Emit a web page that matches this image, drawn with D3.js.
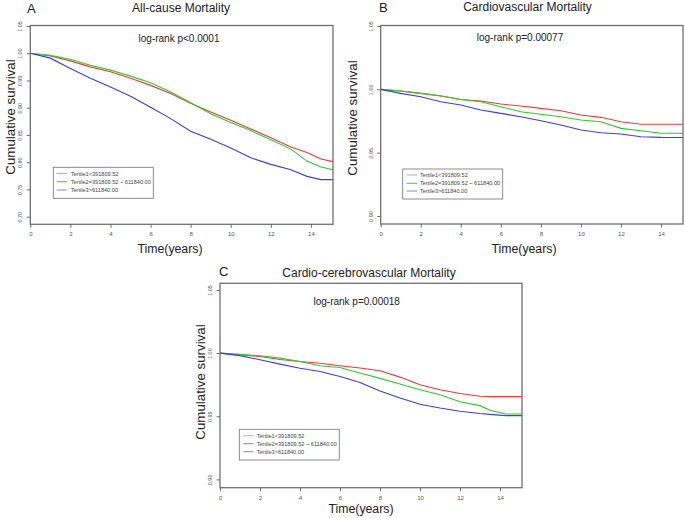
<!DOCTYPE html>
<html>
<head>
<meta charset="utf-8">
<script src="https://cdn.jsdelivr.net/npm/d3@7"></script>
<style>
  html, body { margin: 0; padding: 0; background: #fff; }
  svg { display: block; font-family: "Liberation Sans", Arial, sans-serif; }
</style>
</head>
<body>
<script>
// ---------------- DATA ----------------
const xTicks = [0, 2, 4, 6, 8, 10, 12, 14];
const yTicksA = [0.70, 0.75, 0.80, 0.85, 0.90, 0.95, 1.00, 1.05];
const yTicksBC = [0.90, 0.95, 1.00, 1.05];
const legendLabels = ["Tertile1<391809.52", "Tertile2=391809.52 ~ 611840.00", "Tertile3>611840.00"];
const seriesColors = ["#f03a3a", "#2bcc2b", "#3c3cf0"];
const legendColors = ["#f59a9a", "#3ad83a", "#8e8ef5"];

// Panel A: All-cause Mortality
const timeA = [0, 1, 2, 3, 4, 5, 6, 7, 8, 9, 10, 11, 12, 13, 13.8, 14.5, 15.1];
const survA_T1 = [1, 0.995, 0.986, 0.975, 0.966, 0.954, 0.941, 0.926, 0.908, 0.892, 0.877, 0.861, 0.845, 0.828, 0.818, 0.806, 0.801];
const survA_T2 = [1, 0.996, 0.989, 0.978, 0.969, 0.958, 0.946, 0.929, 0.909, 0.889, 0.873, 0.858, 0.841, 0.824, 0.802, 0.791, 0.786];
const survA_T3 = [1, 0.991, 0.972, 0.954, 0.938, 0.921, 0.901, 0.880, 0.857, 0.842, 0.826, 0.808, 0.796, 0.786, 0.774, 0.768, 0.768];

// Panel B: Cardiovascular Mortality
const timeB = [0, 1, 2, 3, 4, 5, 6, 7, 8, 9, 10, 11, 12, 13, 14, 15.1];
const survB_T1 = [1, 0.9987, 0.9968, 0.9947, 0.9920, 0.9908, 0.9884, 0.9868, 0.9850, 0.9831, 0.9797, 0.9779, 0.9744, 0.9724, 0.9724, 0.9724];
const survB_T2 = [1, 0.9987, 0.9968, 0.9950, 0.9920, 0.9902, 0.9863, 0.9823, 0.9803, 0.9784, 0.9758, 0.9744, 0.9692, 0.9673, 0.9653, 0.9653];
const survB_T3 = [1, 0.9968, 0.9942, 0.9902, 0.9876, 0.9837, 0.9810, 0.9784, 0.9752, 0.9718, 0.9679, 0.9657, 0.9647, 0.9626, 0.9621, 0.9620];

// Panel C: Cardio-cerebrovascular Mortality
const timeC = [0, 1, 2, 3, 4, 5, 6, 7, 8, 9, 10, 11, 12, 13, 13.5, 14.3, 15.1];
const survC_T1 = [1, 0.9987, 0.9973, 0.9950, 0.9934, 0.9920, 0.9900, 0.9882, 0.9860, 0.9810, 0.9750, 0.9710, 0.9680, 0.9658, 0.9655, 0.9655, 0.9655];
const survC_T2 = [1, 0.9990, 0.9979, 0.9960, 0.9934, 0.9900, 0.9886, 0.9842, 0.9800, 0.9755, 0.9710, 0.9670, 0.9615, 0.9584, 0.9547, 0.9518, 0.9518];
const survC_T3 = [1, 0.9980, 0.9947, 0.9913, 0.9880, 0.9855, 0.9815, 0.9768, 0.9700, 0.9645, 0.9595, 0.9565, 0.9540, 0.9522, 0.9515, 0.9505, 0.9505];

const titles = ["All-cause Mortality", "Cardiovascular Mortality", "Cardio-cerebrovascular Mortality"];
const panelLetters = ["A", "B", "C"];
const pValues = ["log-rank p<0.0001", "log-rank p=0.00077", "log-rank p=0.00018"];
const xTitle = "Time(years)";
const yTitle = "Cumulative survival";

// ---------------- LAYOUT ----------------
const W = 685, H = 518;
const panels = [
  { time: timeA, series: [survA_T1, survA_T2, survA_T3], yTicks: yTicksA,
    left: 30.3, right: 333, top: 26, bottom: 224.3, xMax: 15.1, yDom: [0.686, 1.05], frameTop: 25.5,
    letter: [27, 12.5], title: [181, 12], p: [179, 41.5], xt: [170, 252.5], yt: [14.5, 117],
    tickLabX: 8.5, tickLabY: 12.2,
    leg: { x: 53.3, y: 167.3, w: 100, h: 31, rows: [173.5, 181.7, 190], lx0: 56.7, lx1: 66.7, tx: 70.7 } },
  { time: timeB, series: [survB_T1, survB_T2, survB_T3], yTicks: yTicksBC,
    left: 380.7, right: 683, top: 26, bottom: 224, xMax: 15.1, yDom: [0.8937, 1.05], frameTop: 25.5,
    letter: [379, 12], title: [527.5, 11.3], p: [520, 40.8], xt: [524, 252.5], yt: [357, 118],
    tickLabX: 8, tickLabY: 12.2,
    leg: { x: 402.7, y: 169, w: 100, h: 30, rows: [175, 183.3, 191], lx0: 406.7, lx1: 417.3, tx: 420 } },
  { time: timeC, series: [survC_T1, survC_T2, survC_T3], yTicks: yTicksBC,
    left: 220, right: 522, top: 283.3, bottom: 487.7, xMax: 15.1, yDom: [0.8934, 1.0553], frameTop: 283.3,
    letter: [219, 275.5], title: [369, 277.3], p: [356.7, 305], xt: [361, 512.5], yt: [205, 382],
    tickLabX: 8, tickLabY: 12.8,
    leg: { x: 239.3, y: 429.3, w: 100, h: 30.7, rows: [435.7, 443.6, 451.7], lx0: 243.3, lx1: 253.3, tx: 256.7 } }
];

const svg = d3.select("body").append("svg").attr("width", W).attr("height", H);
svg.append("rect").attr("width", W).attr("height", H).attr("fill", "#fff");

const frameColor = "#707070";
const tickTextColor = "#555";

panels.forEach((p, i) => {
  const g = svg.append("g");
  const x = d3.scaleLinear().domain([0, p.xMax]).range([p.left, p.right]);
  const y = d3.scaleLinear().domain(p.yDom).range([p.bottom, p.top]);

  // curves
  const line = d3.line().x(d => x(d[0])).y(d => y(d[1]));
  p.series.forEach((s, k) => {
    const pts = p.time.map((t, j) => [t, s[j]]);
    g.append("path").datum(pts).attr("d", line)
      .attr("fill", "none").attr("stroke", seriesColors[k]).attr("stroke-width", 1.1);
  });

  // frame
  g.append("rect").attr("x", p.left).attr("y", p.frameTop)
    .attr("width", p.right - p.left).attr("height", p.bottom - p.frameTop)
    .attr("fill", "none").attr("stroke", frameColor).attr("stroke-width", 1.3);

  // x axis
  const xa = g.append("g").attr("transform", `translate(0,${p.bottom})`)
    .call(d3.axisBottom(x).tickValues(xTicks).tickSize(3.5).tickFormat(d3.format("d")));
  xa.select(".domain").remove();
  xa.selectAll("line").attr("stroke", frameColor);
  xa.selectAll("text").attr("y", p.tickLabY).attr("dy", 0)
    .attr("font-size", 6).attr("fill", tickTextColor)
    .attr("font-family", "'Liberation Sans', Arial, sans-serif");

  // y axis
  const ya = g.append("g").attr("transform", `translate(${p.left},0)`)
    .call(d3.axisLeft(y).tickValues(p.yTicks).tickSize(3.5).tickFormat(d3.format(".2f")));
  ya.select(".domain").remove();
  ya.selectAll("line").attr("stroke", frameColor);
  ya.selectAll("text").attr("x", null).attr("dy", 0)
    .attr("transform", `translate(${-p.tickLabX},0) rotate(-90)`)
    .attr("text-anchor", "middle")
    .attr("font-size", 5.5).attr("fill", tickTextColor)
    .attr("font-family", "'Liberation Sans', Arial, sans-serif");

  // texts
  g.append("text").attr("x", p.letter[0]).attr("y", p.letter[1]).text(panelLetters[i])
    .attr("font-size", 13).attr("fill", "#222");
  g.append("text").attr("x", p.title[0]).attr("y", p.title[1]).text(titles[i])
    .attr("font-size", 12).attr("text-anchor", "middle").attr("fill", "#222");
  g.append("text").attr("x", p.p[0]).attr("y", p.p[1]).text(pValues[i])
    .attr("font-size", 10).attr("text-anchor", "middle").attr("fill", "#222");
  g.append("text").attr("x", p.xt[0]).attr("y", p.xt[1]).text(xTitle)
    .attr("font-size", 12.3).attr("text-anchor", "middle").attr("fill", "#222");
  g.append("text").attr("transform", `translate(${p.yt[0]},${p.yt[1]}) rotate(-90)`)
    .text(yTitle).attr("font-size", 13.3).attr("text-anchor", "middle").attr("fill", "#222");

  // legend
  const L = p.leg;
  g.append("rect").attr("x", L.x).attr("y", L.y).attr("width", L.w).attr("height", L.h)
    .attr("fill", "#fff").attr("stroke", "#808080").attr("stroke-width", 0.9);
  legendLabels.forEach((lab, k) => {
    g.append("line").attr("x1", L.lx0).attr("x2", L.lx1).attr("y1", L.rows[k]).attr("y2", L.rows[k])
      .attr("stroke", legendColors[k]).attr("stroke-width", 1.1);
    g.append("text").attr("x", L.tx).attr("y", L.rows[k] + 2).text(lab)
      .attr("font-size", 5.6).attr("fill", "#444");
  });
});
</script>
</body>
</html>
